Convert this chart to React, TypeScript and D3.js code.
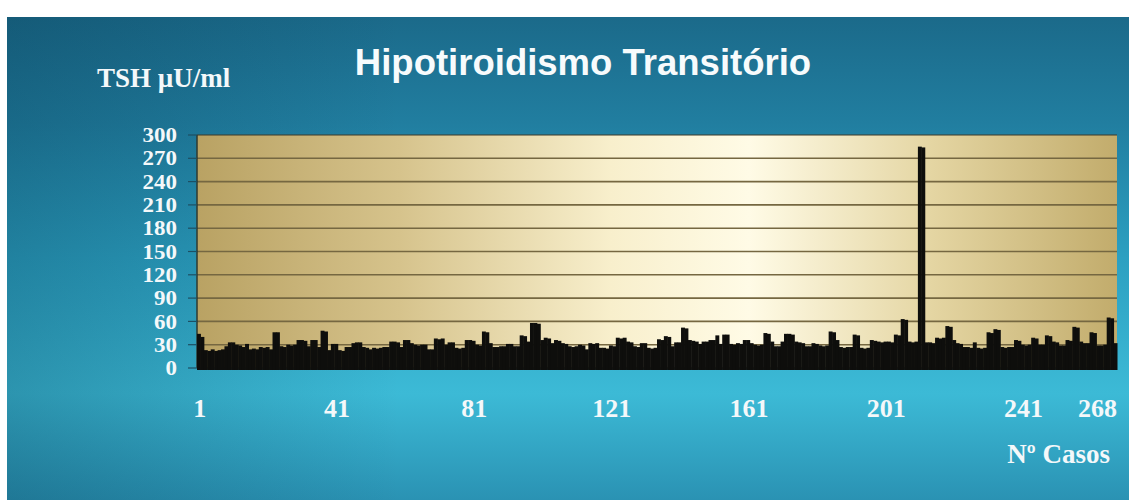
import React from "react";
import * as d3 from "d3";

// TSH (µU/ml) per case, cases 1..268
const tshValues: number[] = [
  44, 40, 23, 22, 24, 22, 23, 24, 28, 33, 33, 30, 29, 27, 31, 24, 25, 24, 27, 26, 27, 24, 46, 46, 28, 27, 30, 29, 30, 36, 36, 35, 28, 36, 36, 27, 48, 47, 23, 31, 31, 23, 22, 27, 27,
  32, 33, 33, 27, 26, 24, 26, 25, 26, 27, 27, 34, 34, 33, 27, 36, 36, 32, 30, 29, 30, 30, 24, 24, 38, 37, 38, 30, 33, 33, 26, 25, 26, 36, 36, 35, 30, 29, 47, 46, 32, 27, 27, 28, 28,
  31, 31, 28, 28, 42, 41, 34, 58, 58, 57, 36, 39, 38, 32, 36, 35, 32, 31, 28, 27, 28, 30, 29, 24, 32, 31, 32, 26, 26, 25, 29, 28, 39, 38, 39, 34, 33, 28, 27, 32, 32, 26, 25, 26, 37, 36,
  41, 40, 28, 33, 33, 52, 51, 36, 35, 34, 31, 34, 34, 36, 36, 42, 31, 43, 43, 31, 30, 32, 31, 36, 36, 32, 30, 29, 30, 45, 44, 34, 28, 28, 34, 44, 44, 43, 34, 33, 32, 28, 28, 32, 31,
  29, 28, 29, 47, 46, 36, 27, 26, 27, 27, 43, 42, 26, 25, 26, 36, 35, 34, 33, 34, 34, 33, 43, 42, 63, 62, 34, 33, 34, 285, 284, 33, 33, 32, 39, 38, 39, 54, 53, 36, 32, 31, 27, 27, 26,
  33, 26, 25, 26, 46, 45, 50, 49, 27, 26, 27, 27, 36, 35, 30, 29, 30, 39, 38, 30, 30, 42, 41, 34, 33, 29, 29, 36, 35, 53, 52, 34, 32, 32, 46, 45, 29, 29, 30, 65, 64, 32,
];

const caseNumbers: number[] = tshValues.map((_, i) => i + 1);
const yTickValues: number[] = [0, 30, 60, 90, 120, 150, 180, 210, 240, 270, 300];
const xTickCases: number[] = [1, 41, 81, 121, 161, 201, 241, 268];

const titleText = "Hipotiroidismo Transitório";
const yAxisTitle = "TSH \u00B5U/ml";
const xAxisTitle = "N\u00BA Casos";

export default function App() {
  const W = 1129;
  const H = 500;
  const plot = { left: 197, right: 1117, top: 135, bottom: 368 };

  const x = d3
    .scaleBand<number>()
    .domain(caseNumbers)
    .range([plot.left, plot.right])
    .padding(0);
  const y = d3.scaleLinear().domain([0, 300]).range([plot.bottom, plot.top]);
  const bw = x.bandwidth();

  const serif = "'Liberation Serif', 'Times New Roman', serif";
  const sans = "'Liberation Sans', Arial, sans-serif";

  return (
    <svg
      width={W}
      height={H}
      viewBox={`0 0 ${W} ${H}`}
      style={{ position: "absolute", left: 0, top: 0, display: "block" }}
    >
      <defs>
        <linearGradient id="slideBg" x1="0" y1="0" x2="0" y2="1">
          <stop offset="0" stopColor="#1b6a8a" />
          <stop offset="0.22" stopColor="#217ea0" />
          <stop offset="0.5" stopColor="#2ca0c1" />
          <stop offset="0.78" stopColor="#3cbad6" />
          <stop offset="1" stopColor="#2a92b3" />
        </linearGradient>
        <linearGradient id="slideShade" x1="0" y1="0" x2="1" y2="0">
          <stop offset="0" stopColor="#04344a" stopOpacity="0.28" />
          <stop offset="0.35" stopColor="#04344a" stopOpacity="0" />
          <stop offset="1" stopColor="#04344a" stopOpacity="0" />
        </linearGradient>
        <linearGradient id="plotBg" x1="0" y1="0" x2="1" y2="0">
          <stop offset="0" stopColor="#b9a263" />
          <stop offset="0.22" stopColor="#d6c38c" />
          <stop offset="0.45" stopColor="#f8efcc" />
          <stop offset="0.6" stopColor="#fffbe6" />
          <stop offset="0.8" stopColor="#e4d5a2" />
          <stop offset="1" stopColor="#c2ac6c" />
        </linearGradient>
      </defs>

      {/* paper and slide background */}
      <rect x={0} y={0} width={W} height={H} fill="#ffffff" />
      <rect x={7} y={17} width={W - 7} height={H - 17} fill="url(#slideBg)" />
      <rect x={7} y={17} width={W - 7} height={H - 17} fill="url(#slideShade)" />

      {/* title */}
      <text
        x={583}
        y={75}
        textAnchor="middle"
        fontFamily={sans}
        fontWeight="bold"
        fontSize={36.5}
        fill="#f7fbfc"
      >
        {titleText}
      </text>

      {/* y axis title */}
      <text x={97} y={87} fontFamily={serif} fontWeight="bold" fontSize={27} fill="#f4f8fa">
        {yAxisTitle}
      </text>

      {/* plot area */}
      <rect
        x={plot.left}
        y={plot.top}
        width={plot.right - plot.left}
        height={plot.bottom - plot.top}
        fill="url(#plotBg)"
      />

      {/* grid lines */}
      {yTickValues.map((t) => (
        <line
          key={`g${t}`}
          x1={plot.left}
          x2={plot.right}
          y1={y(t)}
          y2={y(t)}
          stroke={t === 300 ? "#3c3a2a" : "#756741"}
          strokeWidth={t === 300 ? 1.2 : 1.6}
        />
      ))}
      <line x1={plot.left} x2={plot.left} y1={plot.top} y2={plot.bottom} stroke="#2e3a30" strokeWidth={1.5} />

      {/* y ticks and labels */}
      {yTickValues.map((t) => (
        <g key={`yt${t}`}>
          <line x1={188} x2={plot.left} y1={y(t)} y2={y(t)} stroke="#1d4f63" strokeWidth={1.2} />
          <g transform={`translate(177,${y(t)}) scale(1.12,1)`}>
            <text
              x={0}
              y={0}
              dy="0.35em"
              textAnchor="end"
              fontFamily={serif}
              fontWeight="bold"
              fontSize={20.5}
              fill="#f4f8fa"
            >
              {t}
            </text>
          </g>
        </g>
      ))}

      {/* bars */}
      {tshValues.map((v, i) => (
        <rect
          key={`b${i}`}
          x={x(caseNumbers[i])}
          y={y(v)}
          width={bw + 0.5}
          height={y(0) - y(v) + 2}
          fill="#0e0e0c"
        />
      ))}

      {/* x tick labels */}
      {xTickCases.map((c, i) => {
        const last = i === xTickCases.length - 1;
        const cx = (x(c) as number) + bw / 2;
        return (
          <text
            key={`xt${c}`}
            x={last ? plot.right : cx + 1}
            y={417}
            textAnchor={last ? "end" : "middle"}
            fontFamily={serif}
            fontWeight="bold"
            fontSize={26}
            fill="#f4f8fa"
          >
            {c}
          </text>
        );
      })}

      {/* x axis title */}
      <text
        x={1110}
        y={463}
        textAnchor="end"
        fontFamily={serif}
        fontWeight="bold"
        fontSize={27}
        fill="#f4f8fa"
      >
        {xAxisTitle}
      </text>
    </svg>
  );
}
